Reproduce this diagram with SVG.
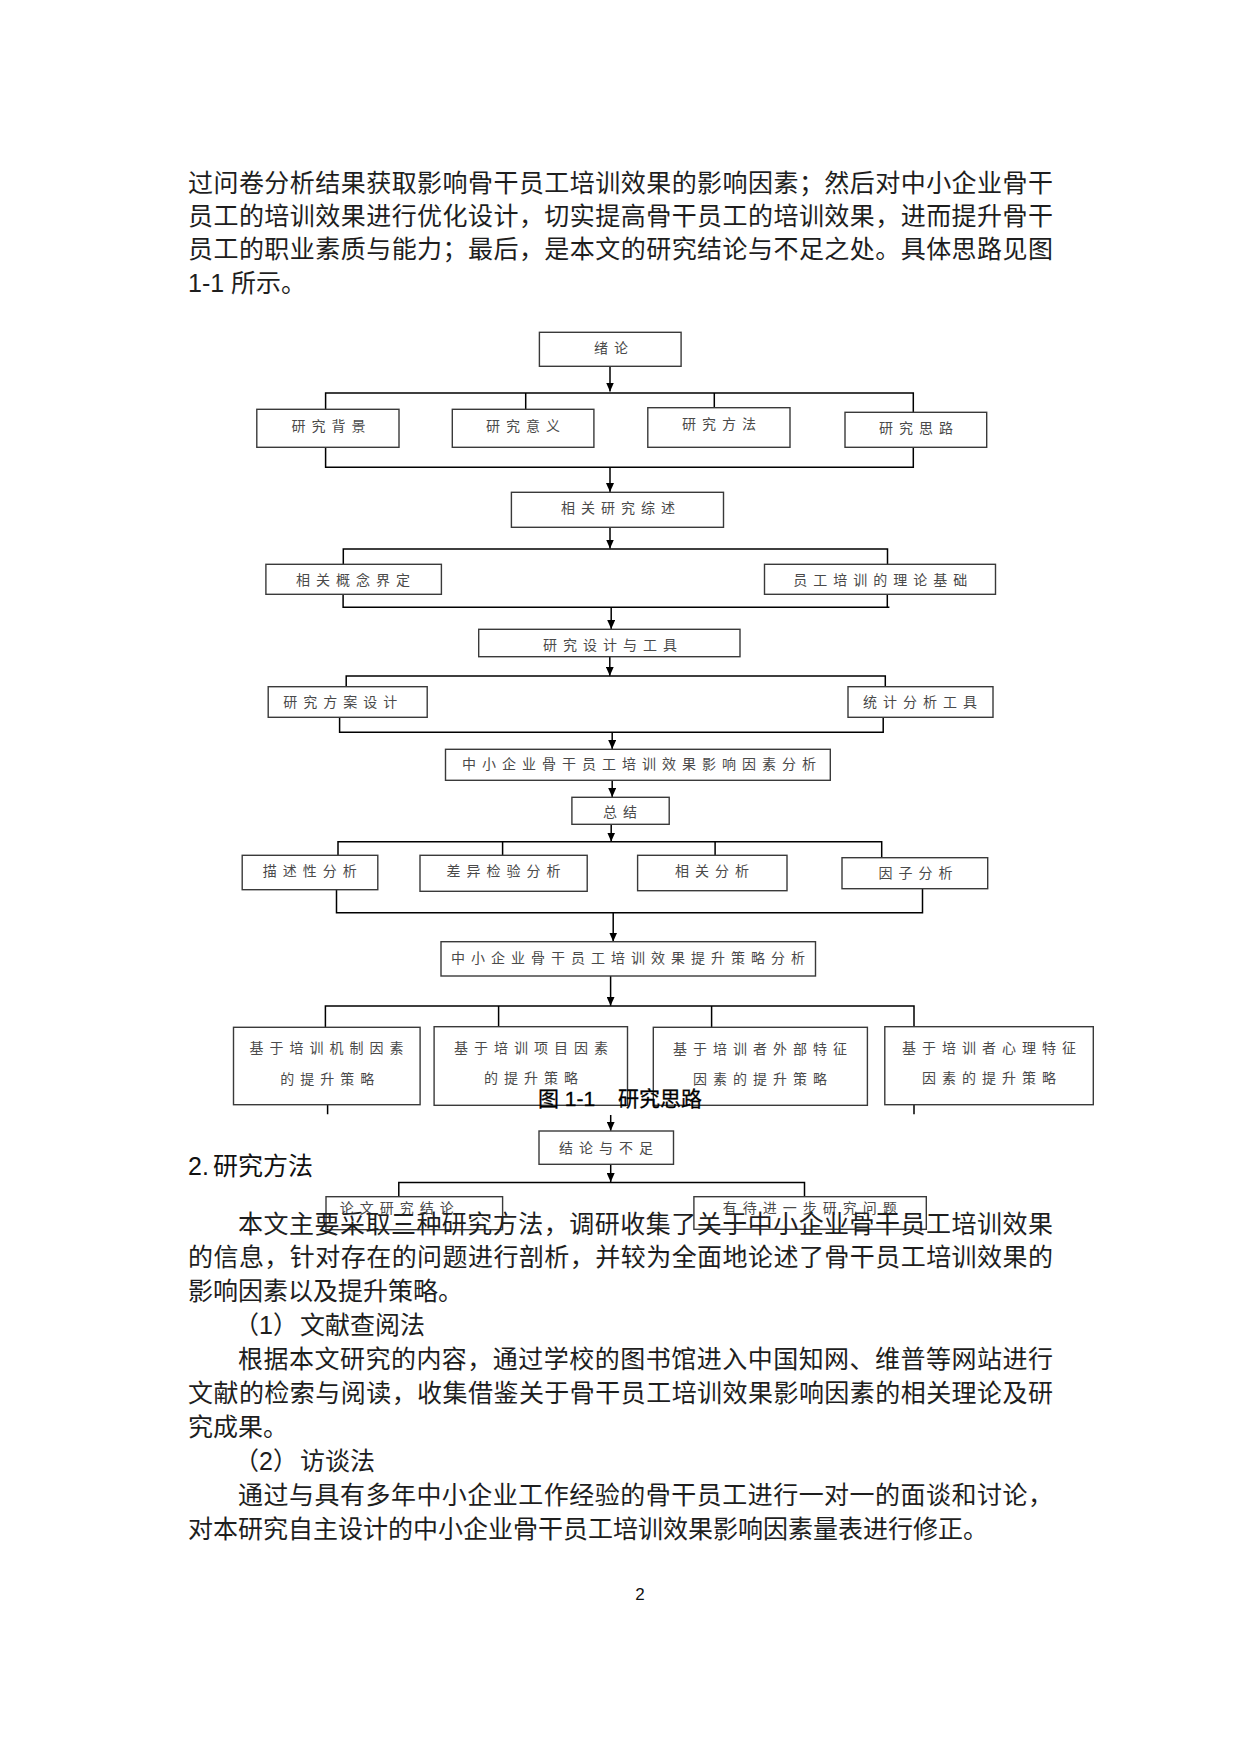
<svg xmlns="http://www.w3.org/2000/svg" width="1240" height="1754" viewBox="0 0 1240 1754">
<defs>
<marker id="ah" markerWidth="9" markerHeight="8" refX="9" refY="4" orient="auto" markerUnits="userSpaceOnUse"><path d="M0,0 L9,4 L0,8 z" fill="#000"/></marker>
<style>
.bx{fill:none;stroke:#3a3a3a;stroke-width:1.4}
.lb{font-family:"Noto Sans CJK SC","Liberation Sans",sans-serif;font-size:14px;letter-spacing:6px;fill:#4a4a4a;text-anchor:middle}
.cn{fill:none;stroke:#000;stroke-width:1.5}
.ar{fill:none;stroke:#000;stroke-width:1.5;marker-end:url(#ah)}
.bt{font-family:"Liberation Sans","Noto Sans CJK SC",sans-serif;font-size:25px;fill:#1e1e1e}
.hd{font-family:"Liberation Sans","Noto Sans CJK SC",sans-serif;font-size:25px;fill:#111}
.cap{font-family:"Liberation Sans","Noto Sans CJK SC",sans-serif;font-size:21px;fill:#000;stroke:#000;stroke-width:0.3}
</style>
</defs>
<rect width="1240" height="1754" fill="#fff"/>

<g id="connectors">
<path class="ar" d="M610,366 V391.5"/>
<path class="cn" d="M325.6,409.3 V393 H913.3 V412.3 M525.7,393 V409.3 M714.3,393 V407.7"/>
<path class="cn" d="M325.6,447.3 V467.3 H913.3 V447.3"/>
<path class="ar" d="M610,467.3 V492"/>
<path class="ar" d="M610,527.3 V548.5"/>
<path class="cn" d="M343.3,564.3 V549 H887.5 V564.3"/>
<path class="cn" d="M343.1,594.3 V607.3 H889.4 M887.3,594.3 V607.3"/>
<path class="ar" d="M611.2,607.3 V629"/>
<path class="ar" d="M609.8,656.7 V675.8"/>
<path class="cn" d="M346.2,686.7 V676 H885.3 V686.7"/>
<path class="cn" d="M339.6,717.3 V732.3 H883.2 V717.3"/>
<path class="ar" d="M612.2,732.3 V749"/>
<path class="ar" d="M612.2,780.3 V797"/>
<path class="ar" d="M611.2,824.3 V841.5"/>
<path class="cn" d="M338,855.3 V841.7 H881.7 V857.7 M502.6,841.7 V855.3 M715.1,841.7 V855.3"/>
<path class="cn" d="M336.5,889.7 V912.7 H922.5 V888.7"/>
<path class="ar" d="M613.2,912.7 V941.5"/>
<path class="ar" d="M610.6,976 V1005.8"/>
<path class="cn" d="M325.4,1027.3 V1006 H914 V1026.7 M498.6,1006 V1026.7 M711.6,1006 V1027.3"/>
<path class="cn" d="M327.6,1104.7 V1114.3 M914,1104.7 V1114.3"/>
<path class="ar" d="M610.7,1115 V1130.8"/>
<path class="ar" d="M610.7,1164.3 V1182"/>
<path class="cn" d="M398.8,1196.7 V1182.5 H804.5 V1196.7"/>
</g>

<g id="n-xulun"><rect class="bx" x="539.4" y="332.3" width="141.7" height="34"/><text class="lb" x="613.9" y="353.3">绪论</text></g>
<g id="n-beijing"><rect class="bx" x="256.8" y="409.3" width="142.2" height="38"/><text class="lb" x="331.4" y="431">研究背景</text></g>
<g id="n-yiyi"><rect class="bx" x="452.3" y="409.3" width="141.6" height="38"/><text class="lb" x="526" y="431">研究意义</text></g>
<g id="n-fangfa"><rect class="bx" x="647.8" y="407.7" width="142.2" height="39.6"/><text class="lb" x="722" y="429">研究方法</text></g>
<g id="n-silu"><rect class="bx" x="845" y="412.3" width="141.7" height="35"/><text class="lb" x="919" y="433">研究思路</text></g>
<g id="n-zongshu"><rect class="bx" x="511.4" y="492.3" width="212.1" height="35"/><text class="lb" x="621" y="513">相关研究综述</text></g>
<g id="n-gainian"><rect class="bx" x="265.9" y="564.3" width="175.5" height="30"/><text class="lb" x="356" y="585">相关概念界定</text></g>
<g id="n-lilun"><rect class="bx" x="764.5" y="564.3" width="231" height="30"/><text class="lb" x="883.3" y="585">员工培训的理论基础</text></g>
<g id="n-sheji"><rect class="bx" x="478.7" y="629.3" width="261.3" height="27.4"/><text class="lb" x="613" y="650">研究设计与工具</text></g>
<g id="n-fangan"><rect class="bx" x="268.2" y="686.7" width="159" height="30.6"/><text class="lb" x="343.3" y="707.3">研究方案设计</text></g>
<g id="n-gongju"><rect class="bx" x="848" y="686.7" width="145" height="30.6"/><text class="lb" x="923" y="707">统计分析工具</text></g>
<g id="n-yingxiang"><rect class="bx" x="445.5" y="749.3" width="384.8" height="31"/><text class="lb" x="642" y="769.3">中小企业骨干员工培训效果影响因素分析</text></g>
<g id="n-zongjie"><rect class="bx" x="571.9" y="797.3" width="97.3" height="27"/><text class="lb" x="623" y="817.3">总结</text></g>
<g id="n-miaoshu"><rect class="bx" x="242.2" y="855.3" width="135.6" height="34.4"/><text class="lb" x="312.8" y="876">描述性分析</text></g>
<g id="n-chayi"><rect class="bx" x="420" y="855.3" width="167.2" height="36"/><text class="lb" x="506.4" y="876">差异检验分析</text></g>
<g id="n-xiangguan"><rect class="bx" x="637.6" y="855.3" width="149.4" height="35.4"/><text class="lb" x="715" y="876">相关分析</text></g>
<g id="n-yinzi"><rect class="bx" x="842" y="857.7" width="145.7" height="31"/><text class="lb" x="918.6" y="877.7">因子分析</text></g>
<g id="n-tisheng"><rect class="bx" x="441" y="941.7" width="374.5" height="34.3"/><text class="lb" x="631" y="962.7">中小企业骨干员工培训效果提升策略分析</text></g>
<g id="n-jizhi"><rect class="bx" x="233.5" y="1027.3" width="186.6" height="77.4"/><text class="lb" x="329.5" y="1053.3">基于培训机制因素</text><text class="lb" x="330.3" y="1084">的提升策略</text></g>
<g id="n-xiangmu"><rect class="bx" x="434.1" y="1026.7" width="193.4" height="78.6"/><text class="lb" x="534" y="1052.7">基于培训项目因素</text><text class="lb" x="534" y="1083">的提升策略</text></g>
<g id="n-waibu"><rect class="bx" x="653.3" y="1027.3" width="214.1" height="78"/><text class="lb" x="763" y="1054">基于培训者外部特征</text><text class="lb" x="763" y="1084">因素的提升策略</text></g>
<g id="n-xinli"><rect class="bx" x="884.8" y="1026.7" width="208.5" height="78"/><text class="lb" x="992" y="1052.7">基于培训者心理特征</text><text class="lb" x="992" y="1083">因素的提升策略</text></g>
<g id="n-jielun"><rect class="bx" x="539" y="1131" width="134.5" height="33.3"/><text class="lb" x="609" y="1152.7">结论与不足</text></g>
<g id="n-lunwen"><rect class="bx" x="326" y="1196.7" width="176.6" height="33"/><text class="lb" x="399.7" y="1213">论文研究结论</text></g>
<g id="n-youdai"><rect class="bx" x="693.9" y="1196.7" width="232.4" height="32.6"/><text class="lb" x="812.7" y="1213">有待进一步研究问题</text></g>

<g id="body">
<text class="bt" x="188" y="191.5" textLength="865" lengthAdjust="spacing">过问卷分析结果获取影响骨干员工培训效果的影响因素；然后对中小企业骨干</text>
<text class="bt" x="188" y="225" textLength="865" lengthAdjust="spacing">员工的培训效果进行优化设计，切实提高骨干员工的培训效果，进而提升骨干</text>
<text class="bt" x="188" y="258" textLength="865" lengthAdjust="spacing">员工的职业素质与能力；最后，是本文的研究结论与不足之处。具体思路见图</text>
<text class="bt" x="188" y="291.5">1-1 所示。</text>
<text class="cap" y="1106"><tspan x="538">图 1-1</tspan><tspan x="618">研究思路</tspan></text>
<text class="hd" y="1174.5"><tspan x="188">2.</tspan><tspan x="213">研究方法</tspan></text>
<text class="bt" x="238" y="1232.5" textLength="815" lengthAdjust="spacing">本文主要采取三种研究方法，调研收集了关于中小企业骨干员工培训效果</text>
<text class="bt" x="188" y="1266.4" textLength="865" lengthAdjust="spacing">的信息，针对存在的问题进行剖析，并较为全面地论述了骨干员工培训效果的</text>
<text class="bt" x="188" y="1300.3">影响因素以及提升策略。</text>
<text class="bt" y="1334.2"><tspan x="234">（1）</tspan><tspan x="300">文献查阅法</tspan></text>
<text class="bt" x="238" y="1368.1" textLength="815" lengthAdjust="spacing">根据本文研究的内容，通过学校的图书馆进入中国知网、维普等网站进行</text>
<text class="bt" x="188" y="1402" textLength="865" lengthAdjust="spacing">文献的检索与阅读，收集借鉴关于骨干员工培训效果影响因素的相关理论及研</text>
<text class="bt" x="188" y="1435.9">究成果。</text>
<text class="bt" y="1469.8"><tspan x="234">（2）</tspan><tspan x="300">访谈法</tspan></text>
<text class="bt" x="238" y="1503.7" textLength="815" lengthAdjust="spacing">通过与具有多年中小企业工作经验的骨干员工进行一对一的面谈和讨论，</text>
<text class="bt" x="188" y="1537.6">对本研究自主设计的中小企业骨干员工培训效果影响因素量表进行修正。</text>
<text x="640" y="1600" font-family="Liberation Sans, sans-serif" font-size="17" text-anchor="middle" fill="#111">2</text>
</g>
</svg>
